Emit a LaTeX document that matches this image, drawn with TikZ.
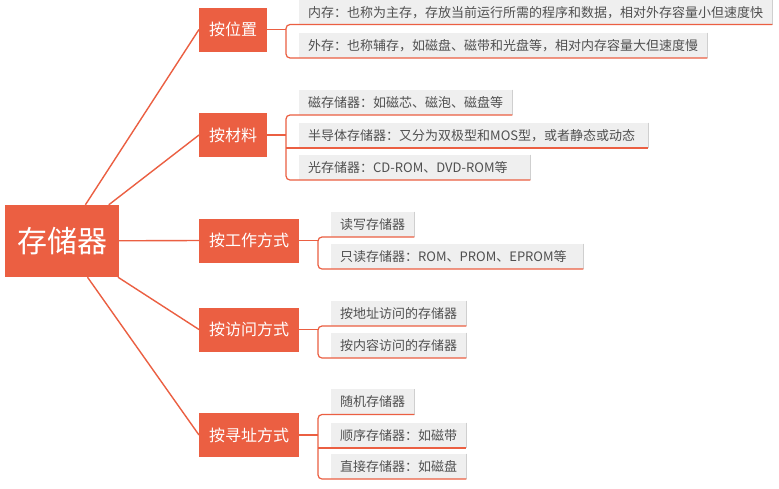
\documentclass[tikz,border=0pt]{standalone}
\usepackage{fontspec}
\setmainfont{Noto Sans CJK SC}
\definecolor{mmorange}{HTML}{EB5F42}
\definecolor{leafgray}{HTML}{EFEFEF}
\definecolor{leafedge}{HTML}{CFCFCF}
\definecolor{leaftext}{HTML}{505050}
\tikzset{
  rootbox/.style={fill=mmorange, text=white, font=\fontsize{30}{32}\selectfont,
    minimum width=114pt, minimum height=72pt, inner sep=0pt},
  branchbox/.style={fill=mmorange, text=white, font=\fontsize{16}{18}\selectfont,
    minimum height=44pt, inner xsep=10pt, inner ysep=0pt, anchor=west},
  leafbox/.style={fill=leafgray, text=leaftext, font=\fontsize{13}{15}\selectfont,
    minimum height=25pt, inner xsep=9pt, inner ysep=0pt, anchor=south west},
  rootlink/.style={draw=mmorange, line width=1.4pt},
  brlink/.style={draw=mmorange, line width=1.2pt, rounded corners=4pt},
  edgeline/.style={draw=leafedge, line width=0.9pt}
}
\begin{document}
\begin{tikzpicture}[x=1pt,y=-1pt]
\useasboundingbox (0,0) rectangle (779,488);
\fill[white] (0,0) rectangle (779,488);

% root
\node[rootbox] (root) at (62,241) {存储器};

% branches
\node[branchbox] (b1) at (199,29.5) {按位置};
\node[branchbox] (b2) at (199,135) {按材料};
\node[branchbox] (b3) at (199,240.5) {按工作方式};
\node[branchbox] (b4) at (199,329.5) {按访问方式};
\node[branchbox] (b5) at (199,435) {按寻址方式};

% bracket positions
\coordinate (k1) at (286,0);
\coordinate (k2) at (286,0);
\coordinate (k3) at (318,0);
\coordinate (k4) at (318,0);
\coordinate (k5) at (318,0);

% leaves
\node[leafbox, minimum height=24pt] (l11) at (299,24.5) {内存：也称为主存，存放当前运行所需的程序和数据，相对外存容量小但速度快};
\node[leafbox] (l12) at (299,58) {外存：也称辅存，如磁盘、磁带和光盘等，相对内存容量大但速度慢};

\node[leafbox] (l21) at (299,115) {磁存储器：如磁芯、磁泡、磁盘等};
\node[leafbox, text width=331pt, align=left] (l22) at (299,148) {半导体存储器：又分为双极型和MOS型，或者静态或动态};
\node[leafbox, text width=213pt, align=left] (l23) at (299,180) {光存储器：CD-ROM、DVD-ROM等};

\node[leafbox] (l31) at (331,237) {读写存储器};
\node[leafbox, text width=234pt, align=left] (l32) at (331,269) {只读存储器：ROM、PROM、EPROM等};

\node[leafbox] (l41) at (331,326) {按地址访问的存储器};
\node[leafbox] (l42) at (331,358) {按内容访问的存储器};

\node[leafbox] (l51) at (331,414.5) {随机存储器};
\node[leafbox] (l52) at (331,448) {顺序存储器：如磁带};
\node[leafbox] (l53) at (331,479) {直接存储器：如磁盘};

% gray right edges of leaves
\foreach \n in {l11,l12,l21,l22,l23,l31,l32,l41,l42,l51,l52,l53}
  \draw[edgeline] (\n.north east) -- (\n.south east);

% root links
\foreach \b in {b1,b2,b3,b4,b5}
  \draw[rootlink] (root) -- (\b.west);

% branch to bracket
\draw[brlink] (b1.east) -- (b1.east -| k1);
\draw[brlink] (b2.east) -- (b2.east -| k2);
\draw[brlink] (b3.east) -- (b3.east -| k3);
\draw[brlink] (b4.east) -- (b4.east -| k4);
\draw[brlink] (b5.east) -- (b5.east -| k5);

% brackets with underlines
\draw[brlink] (l11.south east) -- (l11.south -| k1) -- (l12.south -| k1) -- (l12.south east);

\draw[brlink] (l21.south east) -- (l21.south -| k2) -- (l23.south -| k2) -- (l23.south east);
\draw[brlink] (l22.south -| k2) -- (l22.south east);

\draw[brlink] (l31.south east) -- (l31.south -| k3) -- (l32.south -| k3) -- (l32.south east);

\draw[brlink] (l41.south east) -- (l41.south -| k4) -- (l42.south -| k4) -- (l42.south east);

\draw[brlink] (l51.south east) -- (l51.south -| k5) -- (l53.south -| k5) -- (l53.south east);
\draw[brlink] (l52.south -| k5) -- (l52.south east);
\end{tikzpicture}
\end{document}
